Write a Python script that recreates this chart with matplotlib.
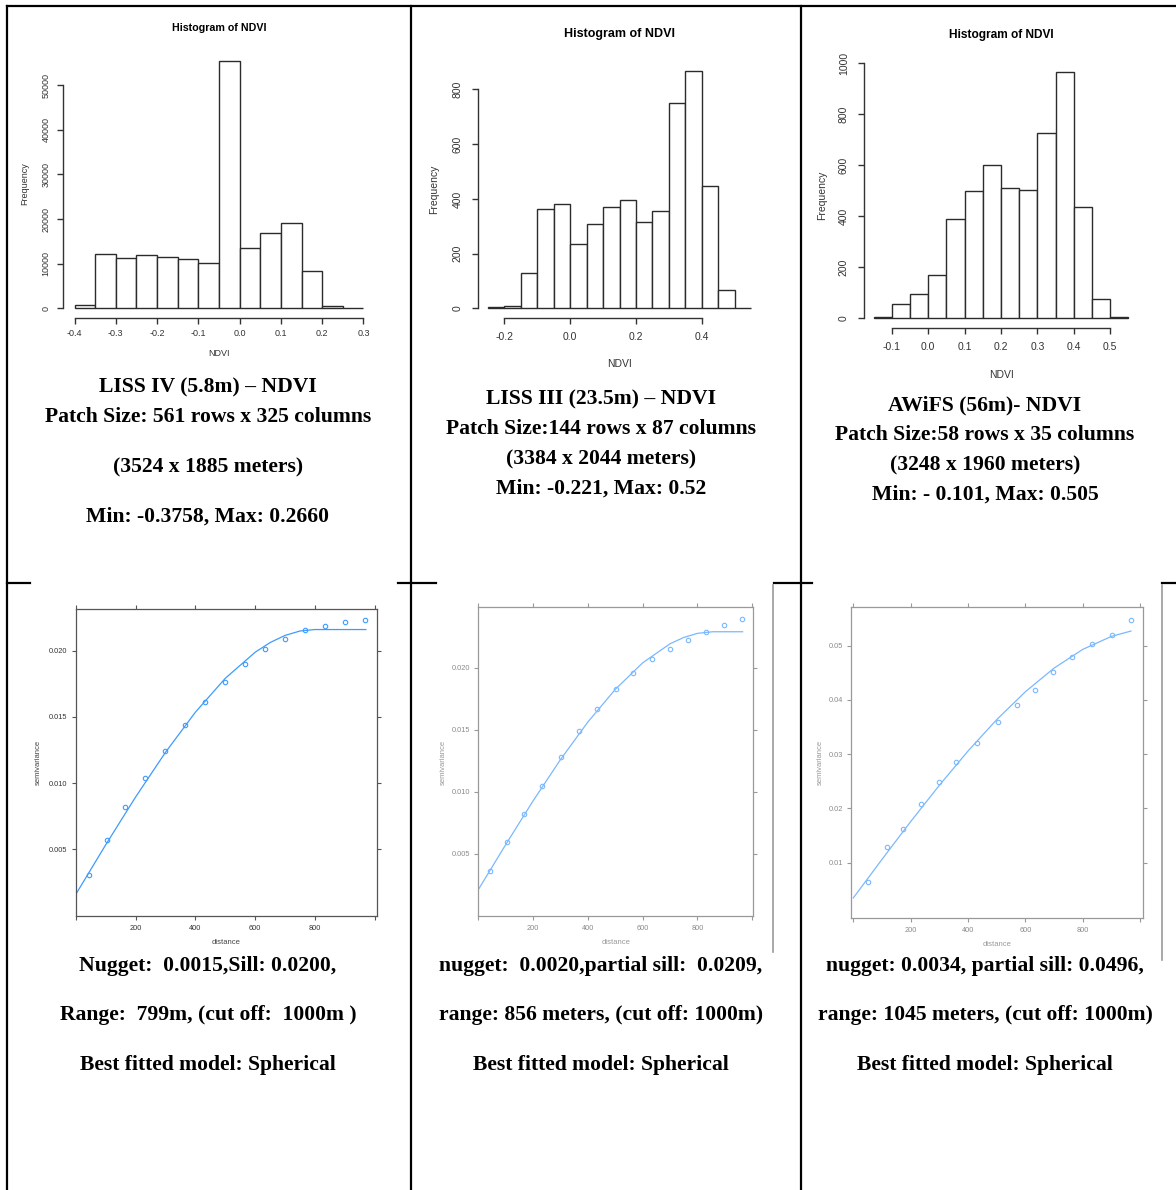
import matplotlib
matplotlib.use('Agg')
import matplotlib.pyplot as plt
import numpy as np

plt.rcParams['font.family'] = ['Liberation Sans', 'DejaVu Sans']
plt.rcParams['axes.unicode_minus'] = False

W, H = 1176, 1190

# NDVI histograms (bin edges and counts)
liss4_edges = [-0.40, -0.35, -0.30, -0.25, -0.20, -0.15, -0.10, -0.05,
               0.00, 0.05, 0.10, 0.15, 0.20, 0.25, 0.30]
liss4_counts = [600, 12200, 11200, 12000, 11500, 11000, 10200, 55500,
                13400, 16900, 19000, 8300, 500, 0]
liss4_xticks = [-0.4, -0.3, -0.2, -0.1, 0.0, 0.1, 0.2, 0.3]
liss4_yticks = [0, 10000, 20000, 30000, 40000, 50000]

liss3_edges = [-0.25, -0.20, -0.15, -0.10, -0.05, 0.00, 0.05, 0.10, 0.15,
               0.20, 0.25, 0.30, 0.35, 0.40, 0.45, 0.50, 0.55]
liss3_counts = [4, 9, 130, 365, 380, 234, 307, 369, 395, 314, 356, 752,
                869, 447, 67, 3]
liss3_xticks = [-0.2, 0.0, 0.2, 0.4]
liss3_yticks = [0, 200, 400, 600, 800]

awifs_edges = [-0.15, -0.10, -0.05, 0.00, 0.05, 0.10, 0.15, 0.20, 0.25,
               0.30, 0.35, 0.40, 0.45, 0.50, 0.55]
awifs_counts = [3, 56, 95, 170, 388, 498, 600, 512, 502, 727, 966, 435, 75, 3]
awifs_xticks = [-0.1, 0.0, 0.1, 0.2, 0.3, 0.4, 0.5]
awifs_yticks = [0, 200, 400, 600, 800, 1000]

liss4_dist = [44, 103, 166, 233, 300, 366, 432, 500, 565, 633, 699, 765, 833, 900, 967]
liss4_gamma = [0.00304, 0.00570, 0.00819, 0.01038, 0.01245, 0.01436, 0.01613,
               0.01766, 0.01897, 0.02010, 0.02088, 0.02154, 0.02189, 0.02219, 0.02232]
liss4_model_dist = [0, 100, 200, 300, 400, 500, 600, 650, 700, 750, 799, 970]
liss4_model_gamma = [0.0016, 0.00534, 0.00895, 0.01233, 0.01536, 0.01792,
                     0.01989, 0.02062, 0.02116, 0.02149, 0.0216, 0.0216]

liss3_dist = [42, 103, 167, 233, 301, 368, 435, 501, 566, 633, 700, 765, 831, 897, 964]
liss3_gamma = [0.0036, 0.00597, 0.00818, 0.01046, 0.01282, 0.01490, 0.01670,
               0.01831, 0.01960, 0.02068, 0.02151, 0.02221, 0.02285, 0.02347, 0.02390]
liss3_model_dist = [0, 100, 200, 300, 400, 500, 600, 700, 750, 800, 856, 965]
liss3_model_gamma = [0.0021, 0.00573, 0.00926, 0.01259, 0.01562, 0.01825,
                     0.02039, 0.02193, 0.02244, 0.02277, 0.0229, 0.0229]

awifs_dist = [50, 116, 172, 235, 300, 357, 430, 505, 570, 633, 697, 761, 831, 903, 968]
awifs_gamma = [0.00646, 0.01288, 0.01624, 0.02077, 0.02492, 0.02848, 0.03215,
               0.03593, 0.03905, 0.04193, 0.0451, 0.04786, 0.05031, 0.05202, 0.05477]
awifs_model_dist = [0, 100, 200, 300, 400, 500, 600, 700, 800, 900, 968]
awifs_model_gamma = [0.0035, 0.0106, 0.01757, 0.02427, 0.03059, 0.03638,
                     0.04152, 0.04588, 0.04933, 0.05173, 0.05271]

dist_ticks = [0, 200, 400, 600, 800, 1000]
dist_labels = ['', '200', '400', '600', '800', '']

# cell texts
top_texts = [
    ["LISS IV (5.8m) \u2013 NDVI", "Patch Size: 561 rows x 325 columns",
     "(3524 x 1885 meters)", "Min: -0.3758, Max: 0.2660"],
    ["LISS III (23.5m) \u2013 NDVI", "Patch Size:144 rows x 87 columns",
     "(3384 x 2044 meters)", "Min: -0.221, Max: 0.52"],
    ["AWiFS (56m)- NDVI", "Patch Size:58 rows x 35 columns",
     "(3248 x 1960 meters)", "Min: - 0.101, Max: 0.505"],
]
bottom_texts = [
    ["Nugget:  0.0015,Sill: 0.0200,", "Range:  799m, (cut off:  1000m )",
     "Best fitted model: Spherical"],
    ["nugget:  0.0020,partial sill:  0.0209,", "range: 856 meters, (cut off: 1000m)",
     "Best fitted model: Spherical"],
    ["nugget: 0.0034, partial sill: 0.0496,", "range: 1045 meters, (cut off: 1000m)",
     "Best fitted model: Spherical"],
]


def px_rect(left, top, right, bottom):
    return [left / W, 1 - bottom / H, (right - left) / W, (bottom - top) / H]


fig = plt.figure(figsize=(W / 100, H / 100), dpi=100)

# page overlay in pixel coordinates for table lines and cell text
page = fig.add_axes([0, 0, 1, 1], zorder=-1)
page.set_xlim(0, W)
page.set_ylim(H, 0)
page.axis('off')


def ptext(x, y, s, **kw):
    page.text(x, y, s, ha='center', va='center', **kw)


def hist_panel(rect, edges, counts, xticks, yticks, tick_fs, xpad, ypad):
    ax = fig.add_axes(px_rect(*rect))
    edges = np.asarray(edges)
    counts = np.asarray(counts)
    ax.bar(edges[:-1], counts, width=np.diff(edges), align='edge',
           color='white', edgecolor='#2b2b2b', linewidth=1.0)
    span = edges[-1] - edges[0]
    ax.set_xlim(edges[0] - 0.04 * span, edges[-1] + 0.04 * span)
    ax.set_ylim(-0.04 * counts.max(), 1.04 * counts.max())
    for s in ['top', 'right']:
        ax.spines[s].set_visible(False)
    for s in ['left', 'bottom']:
        ax.spines[s].set_color('#333333')
        ax.spines[s].set_linewidth(1.0)
    ax.spines['left'].set_bounds(yticks[0], yticks[-1])
    ax.spines['bottom'].set_bounds(xticks[0], xticks[-1])
    ax.set_xticks(xticks, ['%.1f' % v for v in xticks])
    ax.set_yticks(yticks, [str(v) for v in yticks])
    ax.tick_params(axis='x', direction='out', length=4, width=1.0, color='#333333',
                   labelsize=tick_fs, labelcolor='#333333', pad=xpad)
    ax.tick_params(axis='y', direction='out', length=4, width=1.0, color='#333333',
                   labelsize=tick_fs, labelcolor='#333333', pad=ypad)
    plt.setp(ax.get_yticklabels(), rotation=90, va='center')
    ax.patch.set_visible(False)
    return ax


def vgm_panel(rect, xlim, ylim, yticks, ylabels, dist, gamma, mdist, mgamma,
              color, frame, label_color):
    ax = fig.add_axes(px_rect(*rect))
    ax.plot(mdist, mgamma, color=color, lw=0.9)
    ax.plot(dist, gamma, 'o', ms=3.2, mfc='none', mec=color, mew=0.8)
    ax.set_xlim(*xlim)
    ax.set_ylim(*ylim)
    ax.set_xticks(dist_ticks, dist_labels)
    ax.set_yticks(yticks, ylabels)
    for s in ax.spines.values():
        s.set_color(frame)
        s.set_linewidth(0.9)
    ax.tick_params(direction='out', length=3, width=0.8, color=frame,
                   top=True, right=True, labelsize=5.3, labelcolor=label_color)
    ax.tick_params(axis='x', pad=4)
    ax.tick_params(axis='y', pad=3)
    return ax


# --- top row: histograms
hist_panel((63, 51, 375, 318), liss4_edges, liss4_counts, liss4_xticks, liss4_yticks, 6.5, 4, 5)
hist_panel((477.5, 61, 761.5, 318), liss3_edges, liss3_counts, liss3_xticks, liss3_yticks, 7.5, 6, 6.5)
hist_panel((863.5, 62, 1138.5, 328), awifs_edges, awifs_counts, awifs_xticks, awifs_yticks, 7.5, 6, 6.5)

ptext(219, 28, "Histogram of NDVI", fontsize=7.7, fontweight='bold')
ptext(619, 34, "Histogram of NDVI", fontsize=9, fontweight='bold')
ptext(1001, 35, "Histogram of NDVI", fontsize=8.6, fontweight='bold')
ptext(219, 354, "NDVI", fontsize=6.5, color='#333333')
ptext(619, 364, "NDVI", fontsize=7.5, color='#333333')
ptext(1001, 375, "NDVI", fontsize=7.5, color='#333333')
ptext(25, 184, "Frequency", fontsize=6.5, color='#333333', rotation=90)
ptext(434, 189, "Frequency", fontsize=7.5, color='#333333', rotation=90)
ptext(822, 195, "Frequency", fontsize=7.5, color='#333333', rotation=90)

# --- bottom row: variograms
vgm_panel((75.7, 609, 376.7, 915.7), (0, 1006), (0, 0.02315),
          [0.005, 0.010, 0.015, 0.020], ['0.005', '0.010', '0.015', '0.020'],
          liss4_dist, liss4_gamma, liss4_model_dist, liss4_model_gamma,
          '#3d9bff', '#555555', '#333333')
vgm_panel((478.3, 606.7, 753.3, 915.7), (0, 1004), (0, 0.02492),
          [0.005, 0.010, 0.015, 0.020], ['0.005', '0.010', '0.015', '0.020'],
          liss3_dist, liss3_gamma, liss3_model_dist, liss3_model_gamma,
          '#7ab8ff', '#999999', '#8a8a8a')
vgm_panel((851, 606.7, 1143.3, 917.7), (-8, 1011), (-0.00015, 0.0572),
          [0.01, 0.02, 0.03, 0.04, 0.05], ['0.01', '0.02', '0.03', '0.04', '0.05'],
          awifs_dist, awifs_gamma, awifs_model_dist, awifs_model_gamma,
          '#7ab8ff', '#999999', '#8a8a8a')

ptext(38, 762, "semivariance", fontsize=5.5, color='#444444', rotation=90)
ptext(443, 762, "semivariance", fontsize=5.5, color='#999999', rotation=90)
ptext(820, 762, "semivariance", fontsize=5.5, color='#999999', rotation=90)
ptext(226, 943, "distance", fontsize=5.5, color='#444444')
ptext(616, 943, "distance", fontsize=5.5, color='#999999')
ptext(997, 945, "distance", fontsize=5.5, color='#999999')

# --- cell text
serif = dict(family=['Liberation Serif', 'DejaVu Serif'], fontweight='bold', fontsize=15.6)
col_x = [208, 601, 985]
top_rows_y = [[387, 417, 467, 517], [399, 429, 459, 489], [405, 435, 465, 495]]
bottom_rows_y = [966, 1015, 1065]
for i in range(3):
    for s, y in zip(top_texts[i], top_rows_y[i]):
        ptext(col_x[i], y, s, **serif)
    for s, y in zip(bottom_texts[i], bottom_rows_y):
        ptext(col_x[i], y, s, **serif)

# --- table rules
lw = 1.6
page.plot([7, W], [6, 6], color='black', lw=lw)
for x in [7, 411, 801]:
    page.plot([x, x], [6, H], color='black', lw=lw)
for x0, x1 in [(7, 30), (398, 436), (774, 812), (1162, W)]:
    page.plot([x0, x1], [583, 583], color='black', lw=lw)
page.plot([773, 773], [585, 952], color='#9a9a9a', lw=1.2)
page.plot([1162, 1162], [585, 960], color='#9a9a9a', lw=1.2)

fig.savefig('out.png', dpi=100)
